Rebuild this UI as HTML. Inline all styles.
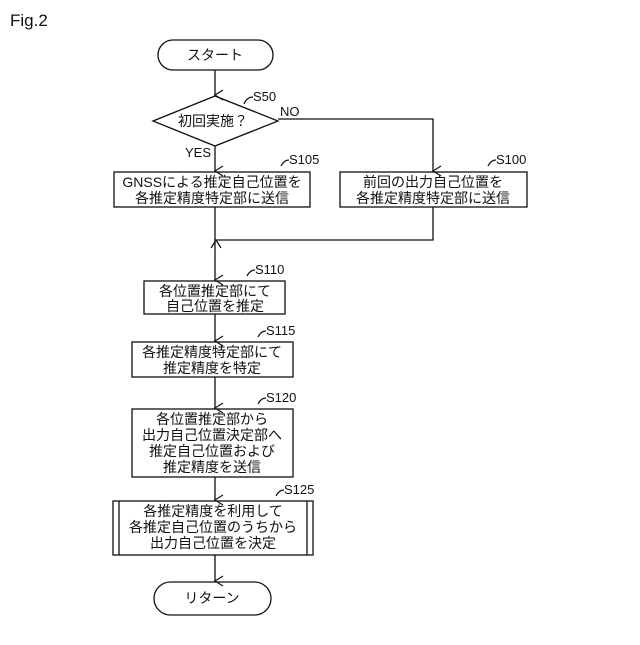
<!DOCTYPE html>
<html><head><meta charset="utf-8"><style>
body{margin:0;background:#fff}
svg text{font-family:"Liberation Sans","Noto Sans CJK JP",sans-serif;fill:#111}
</style></head><body>
<svg width="640" height="640" viewBox="0 0 640 640" xmlns="http://www.w3.org/2000/svg">
<defs><marker id="a" markerWidth="12" markerHeight="12" refX="6" refY="10" orient="auto" markerUnits="userSpaceOnUse"><path d="M1,2 L6,10 L11,2" fill="none" stroke="#111" stroke-width="1.2"/></marker></defs>
<g stroke="#111" stroke-width="1.3" fill="none">
<rect x="158" y="40" width="115" height="30" rx="15"/>
<polygon points="153,121 215,96 278,121 215,146"/>
<rect x="114" y="172" width="196" height="35"/>
<rect x="340" y="172" width="187" height="35"/>
<rect x="144" y="281" width="141" height="33"/>
<rect x="132" y="342" width="161" height="35"/>
<rect x="132" y="409" width="161" height="68"/>
<rect x="113" y="501" width="200" height="54"/>
<line x1="119" y1="501" x2="119" y2="555"/><line x1="307" y1="501" x2="307" y2="555"/>
<rect x="154" y="582" width="117" height="33" rx="16.5"/>
<line x1="215" y1="70" x2="215" y2="95" marker-end="url(#a)"/>
<line x1="215" y1="146" x2="215" y2="171" marker-end="url(#a)"/>
<polyline points="278,119 433,119 433,171" marker-end="url(#a)"/>
<polyline points="433,207 433,240 216,240" marker-end="url(#a)"/>
<line x1="215" y1="207" x2="215" y2="280" marker-end="url(#a)"/>
<line x1="215" y1="314" x2="215" y2="341" marker-end="url(#a)"/>
<line x1="215" y1="377" x2="215" y2="408" marker-end="url(#a)"/>
<line x1="215" y1="477" x2="215" y2="500" marker-end="url(#a)"/>
<line x1="215" y1="555" x2="215" y2="581" marker-end="url(#a)"/>
<path d="M244,104 q3,-7 9,-7"/><path d="M281,166 q3,-6 8,-6"/><path d="M488,166 q3,-6 8,-6"/>
<path d="M247,276 q3,-6 8,-6"/><path d="M258,337 q3,-6 8,-6"/><path d="M258,404 q3,-6 8,-6"/><path d="M276,496 q3,-6 8,-6"/>
</g>
<text x="10" y="26" font-size="17">Fig.2</text>
<g font-size="14" text-anchor="middle">
<text x="215" y="60">スタート</text>
<text x="213" y="126">初回実施？</text>
<text x="212" y="187">GNSSによる推定自己位置を</text><text x="212" y="203">各推定精度特定部に送信</text>
<text x="433" y="187">前回の出力自己位置を</text><text x="433" y="203">各推定精度特定部に送信</text>
<text x="215" y="296">各位置推定部にて</text><text x="215" y="311">自己位置を推定</text>
<text x="212" y="357">各推定精度特定部にて</text><text x="212" y="373">推定精度を特定</text>
<text x="212" y="424">各位置推定部から</text><text x="212" y="440">出力自己位置決定部へ</text><text x="212" y="456">推定自己位置および</text><text x="212" y="472">推定精度を送信</text>
<text x="213" y="516">各推定精度を利用して</text><text x="213" y="532">各推定自己位置のうちから</text><text x="213" y="548">出力自己位置を決定</text>
<text x="212" y="603">リターン</text>
</g>
<g font-size="13">
<text x="253" y="101">S50</text><text x="280" y="116">NO</text><text x="185" y="157">YES</text>
<text x="289" y="164">S105</text><text x="496" y="164">S100</text>
<text x="255" y="274">S110</text><text x="266" y="335">S115</text><text x="266" y="402">S120</text><text x="284" y="494">S125</text>
</g>
</svg>
</body></html>
